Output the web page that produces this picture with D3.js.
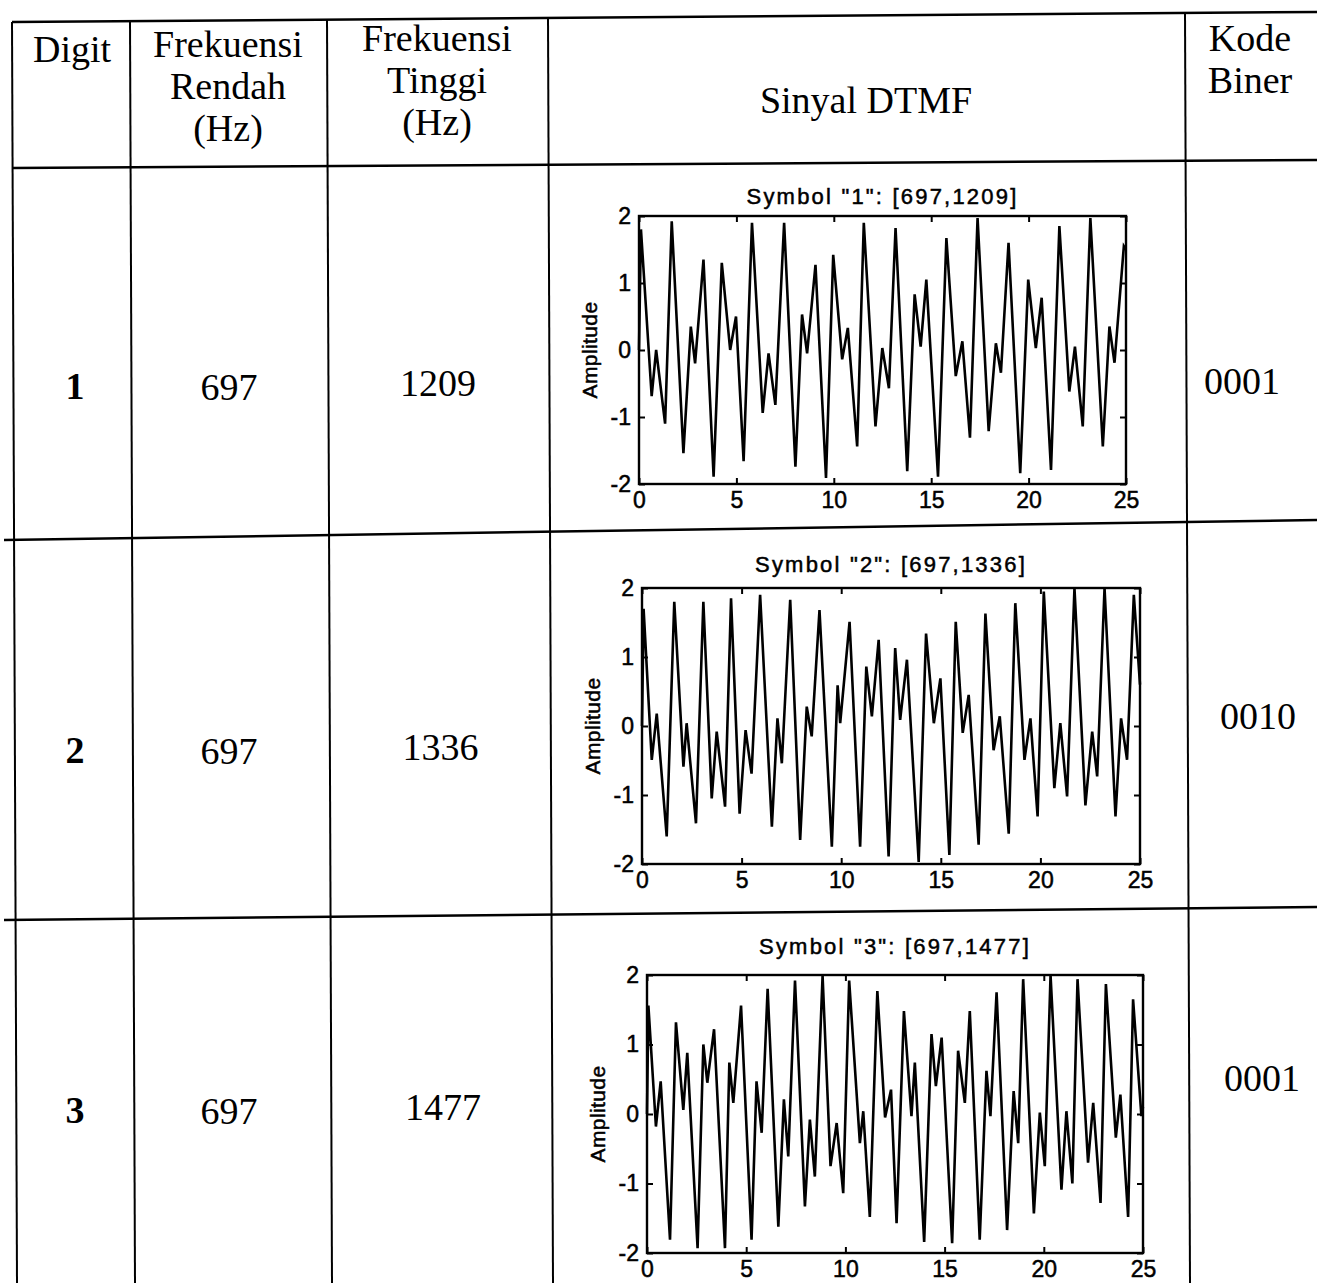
<!DOCTYPE html>
<html>
<head>
<meta charset="utf-8">
<script src="https://cdn.jsdelivr.net/npm/d3@7"></script>
<style>
  body { margin: 0; background: #fff; }
  svg text { fill: #000; }
</style>
</head>
<body>
<script>
const digits = ["1", "2", "3"];
const lowFreq = [697, 697, 697];
const highFreq = [1209, 1336, 1477];
const binaryCode = ["0001", "0010", "0001"];
const titles = ['Symbol "1": [697,1209]', 'Symbol "2": [697,1336]', 'Symbol "3": [697,1477]'];

const xTicks = [0, 5, 10, 15, 20, 25];
const yTicks = [-2, -1, 0, 1, 2];

// turning points of each trace, [time (ms), amplitude]
const signal1 = [
  [0, 0], [0.1, 1.8], [0.65, -0.69], [0.88, 0.0], [1.34, -1.1], [1.68, 1.92], [2.28, -1.54],
  [2.66, 0.35], [2.88, -0.2], [3.31, 1.35], [3.83, -1.89], [4.25, 1.3], [4.68, 0.0], [4.98, 0.5],
  [5.37, -1.66], [5.8, 1.9], [6.35, -0.94], [6.65, -0.05], [7.0, -0.82], [7.45, 1.9], [8.03, -1.74],
  [8.37, 0.53], [8.63, -0.05], [9.06, 1.27], [9.6, -1.91], [9.97, 1.42], [10.43, -0.14], [10.72, 0.33],
  [11.2, -1.44], [11.54, 1.9], [12.14, -1.14], [12.49, 0.03], [12.83, -0.57], [13.17, 1.82],
  [13.77, -1.81], [14.15, 0.83], [14.46, 0.05], [14.75, 1.05], [15.35, -1.89], [15.78, 1.67],
  [16.26, -0.39], [16.6, 0.13], [16.99, -1.31], [17.38, 1.97], [17.95, -1.21], [18.32, 0.1],
  [18.58, -0.34], [18.97, 1.6], [19.57, -1.84], [19.98, 1.05], [20.37, 0.03], [20.67, 0.78],
  [21.15, -1.79], [21.58, 1.85], [22.09, -0.62], [22.38, 0.05], [22.78, -1.14], [23.17, 1.97],
  [23.81, -1.44], [24.15, 0.35], [24.41, -0.19], [24.89, 1.55], [25, 1.5]
];
const signal2 = [
  [0, 0], [0.08, 1.7], [0.49, -0.49], [0.74, 0.18], [1.24, -1.6], [1.62, 1.8], [2.08, -0.59],
  [2.24, 0.04], [2.71, -1.41], [3.08, 1.8], [3.5, -1.05], [3.75, -0.08], [4.17, -1.17], [4.47, 1.85],
  [4.9, -1.27], [5.2, -0.06], [5.5, -0.69], [5.93, 1.9], [6.52, -1.46], [6.8, 0.11], [7.02, -0.54],
  [7.44, 1.83], [7.94, -1.65], [8.27, 0.28], [8.52, -0.15], [8.91, 1.68], [9.53, -1.75], [9.82, 0.59],
  [9.95, 0.04], [10.42, 1.51], [10.95, -1.75], [11.26, 0.86], [11.54, 0.14], [11.88, 1.25],
  [12.38, -1.89], [12.71, 1.13], [12.96, 0.09], [13.3, 0.96], [13.89, -1.97], [14.26, 1.34],
  [14.65, 0.04], [14.98, 0.69], [15.43, -1.87], [15.75, 1.51], [16.1, -0.1], [16.4, 0.45],
  [16.9, -1.72], [17.24, 1.63], [17.65, -0.35], [17.96, 0.14], [18.41, -1.56], [18.74, 1.78],
  [19.2, -0.49], [19.5, 0.11], [19.86, -1.31], [20.17, 1.95], [20.7, -0.9], [21.0, 0.04],
  [21.34, -1.02], [21.71, 2.0], [22.26, -1.15], [22.6, -0.08], [22.85, -0.73], [23.22, 2.0],
  [23.77, -1.31], [24.05, 0.11], [24.35, -0.49], [24.69, 1.9], [25, 0.6]
];
const signal3 = [
  [0, 0], [0.07, 1.56], [0.45, -0.18], [0.69, 0.47], [1.16, -1.81], [1.46, 1.32], [1.83, 0.06],
  [2.03, 0.88], [2.55, -1.93], [2.84, 1.0], [3.04, 0.45], [3.38, 1.22], [3.93, -1.93], [4.15, 0.74],
  [4.35, 0.16], [4.74, 1.56], [5.27, -1.81], [5.52, 0.47], [5.78, -0.27], [6.08, 1.8], [6.62, -1.62],
  [6.9, 0.21], [7.12, -0.61], [7.46, 1.92], [7.96, -1.33], [8.21, -0.08], [8.46, -0.9], [8.85, 1.99],
  [9.25, -0.75], [9.56, -0.13], [9.89, -1.14], [10.19, 1.92], [10.73, -0.42], [10.9, 0.04],
  [11.23, -1.48], [11.61, 1.77], [12.0, -0.05], [12.3, 0.35], [12.58, -1.57], [12.95, 1.48],
  [13.33, -0.03], [13.5, 0.74], [13.97, -1.84], [14.34, 1.15], [14.56, 0.4], [14.85, 1.1],
  [15.38, -1.86], [15.68, 0.91], [16.02, 0.16], [16.27, 1.48], [16.77, -1.81], [17.11, 0.62],
  [17.31, -0.03], [17.62, 1.75], [18.15, -1.67], [18.48, 0.33], [18.71, -0.42], [18.96, 1.94],
  [19.5, -1.43], [19.8, 0.02], [20.05, -0.75], [20.34, 2.0], [20.89, -1.09], [21.14, 0.04],
  [21.44, -1.0], [21.7, 1.94], [22.23, -0.7], [22.49, 0.16], [22.86, -1.28], [23.13, 1.87],
  [23.63, -0.34], [23.86, 0.28], [24.25, -1.48], [24.5, 1.65], [24.92, -0.03], [25, 0.1]
];
const signals = [signal1, signal2, signal3];

// ---- layout ----
const W = 1317, H = 1283;
const serif = "'Liberation Serif', 'Times New Roman', serif";
const sans = "'Liberation Sans', Arial, sans-serif";

const svg = d3.select("body").append("svg")
  .attr("width", W)
  .attr("height", H);

// table rules (scan is slightly skewed, so each rule has its own left/right y)
const hRules = [
  { x1: 12, y1: 22, x2: W, y2: 12 },
  { x1: 12, y1: 168, x2: W, y2: 160 },
  { x1: 4, y1: 540, x2: W, y2: 520 },
  { x1: 4, y1: 920, x2: W, y2: 907 }
];
const vRules = [
  { x: 12, top: 22 },
  { x: 130, top: 21 },
  { x: 327, top: 19 },
  { x: 548, top: 18 },
  { x: 1185, top: 13 }
];

svg.append("g")
  .selectAll("line")
  .data(hRules)
  .enter().append("line")
  .attr("x1", d => d.x1).attr("y1", d => d.y1)
  .attr("x2", d => d.x2).attr("y2", d => d.y2)
  .attr("stroke", "#000").attr("stroke-width", 2.5);

svg.append("g")
  .selectAll("line")
  .data(vRules)
  .enter().append("line")
  .attr("x1", d => d.x).attr("y1", d => d.top)
  .attr("x2", d => d.x + 5).attr("y2", H)
  .attr("stroke", "#000").attr("stroke-width", 2);

// header text
const headerCells = [
  { x: 72, lines: ["Digit"], y0: 62 },
  { x: 228, lines: ["Frekuensi", "Rendah", "(Hz)"], y0: 57 },
  { x: 437, lines: ["Frekuensi", "Tinggi", "(Hz)"], y0: 51 },
  { x: 866, lines: ["Sinyal DTMF"], y0: 113 },
  { x: 1250, lines: ["Kode", "Biner"], y0: 51 }
];
const head = svg.append("g")
  .attr("font-family", serif)
  .attr("font-size", 38)
  .attr("text-anchor", "middle");
headerCells.forEach(c => {
  head.append("text")
    .attr("x", c.x)
    .attr("y", c.y0)
    .selectAll("tspan")
    .data(c.lines)
    .enter().append("tspan")
    .attr("x", c.x)
    .attr("dy", (d, i) => i === 0 ? 0 : 42)
    .text(d => d);
});

// body rows
const rowBase = [399, 763, 1123];
const codeBase = [394, 729, 1091];
const body = svg.append("g")
  .attr("font-family", serif)
  .attr("font-size", 38)
  .attr("text-anchor", "middle");

body.selectAll(".digit")
  .data(digits)
  .enter().append("text")
  .attr("x", 75)
  .attr("y", (d, i) => rowBase[i])
  .attr("font-weight", "bold")
  .text(d => d);

body.selectAll(".low")
  .data(lowFreq)
  .enter().append("text")
  .attr("x", 229)
  .attr("y", (d, i) => rowBase[i] + 1)
  .text(d => d);

body.selectAll(".high")
  .data(highFreq)
  .enter().append("text")
  .attr("x", (d, i) => 438 + i * 2.5)
  .attr("y", (d, i) => rowBase[i] - 3)
  .text(d => d);

body.selectAll(".code")
  .data(binaryCode)
  .enter().append("text")
  .attr("x", (d, i) => [1242, 1258, 1262][i])
  .attr("y", (d, i) => codeBase[i])
  .text(d => d);

// ---- the three DTMF plots ----
const plotBoxes = [
  { x0: 639, x1: 1126, top: 216, bottom: 484, titleY: 204 },
  { x0: 642, x1: 1140, top: 588, bottom: 864, titleY: 572 },
  { x0: 647, x1: 1143, top: 975, bottom: 1253, titleY: 954 }
];

plotBoxes.forEach((b, i) => {
  const x = d3.scaleLinear().domain([0, 25]).range([b.x0, b.x1]);
  const y = d3.scaleLinear().domain([-2, 2]).range([b.bottom, b.top]);
  const g = svg.append("g").attr("font-family", sans);

  // title
  g.append("text")
    .attr("x", (b.x0 + b.x1) / 2)
    .attr("y", b.titleY)
    .attr("text-anchor", "middle")
    .attr("font-size", 22)
    .attr("letter-spacing", 2.2)
    .attr("stroke", "#000").attr("stroke-width", 0.5)
    .text(titles[i]);

  // y label
  g.append("text")
    .attr("transform", `translate(${b.x0 - 42},${(b.top + b.bottom) / 2}) rotate(-90)`)
    .attr("text-anchor", "middle")
    .attr("font-size", 21)
    .attr("letter-spacing", 0.4)
    .attr("stroke", "#000").attr("stroke-width", 0.5)
    .text("Amplitude");

  // axes with inward ticks on all four sides
  const fmt = d => String(d);
  const axB = g.append("g")
    .attr("transform", `translate(0,${b.bottom})`)
    .call(d3.axisBottom(x).tickValues(xTicks).tickSize(-6).tickPadding(8).tickFormat(fmt));
  const axL = g.append("g")
    .attr("transform", `translate(${b.x0},0)`)
    .call(d3.axisLeft(y).tickValues(yTicks).tickSize(-6).tickPadding(8).tickFormat(fmt));
  const axT = g.append("g")
    .attr("transform", `translate(0,${b.top})`)
    .call(d3.axisTop(x).tickValues(xTicks).tickSize(-6).tickFormat(""));
  const axR = g.append("g")
    .attr("transform", `translate(${b.x1},0)`)
    .call(d3.axisRight(y).tickValues(yTicks).tickSize(-6).tickFormat(""));

  [axB, axL, axT, axR].forEach(a => {
    a.select(".domain").remove();
    a.selectAll("line").attr("stroke", "#000").attr("stroke-width", 2);
    a.selectAll("text")
      .attr("font-family", sans)
      .attr("font-size", 23)
      .attr("fill", "#000")
      .attr("stroke", "#000").attr("stroke-width", 0.5);
  });

  // trace
  const line = d3.line()
    .x(d => x(d[0]))
    .y(d => y(d[1]));
  g.append("path")
    .datum(signals[i])
    .attr("d", line)
    .attr("fill", "none")
    .attr("stroke", "#000")
    .attr("stroke-width", 2.6)
    .attr("stroke-linejoin", "miter");

  // frame
  g.append("rect")
    .attr("x", b.x0).attr("y", b.top)
    .attr("width", b.x1 - b.x0).attr("height", b.bottom - b.top)
    .attr("fill", "none")
    .attr("stroke", "#000")
    .attr("stroke-width", 2.4);
});
</script>
</body>
</html>
